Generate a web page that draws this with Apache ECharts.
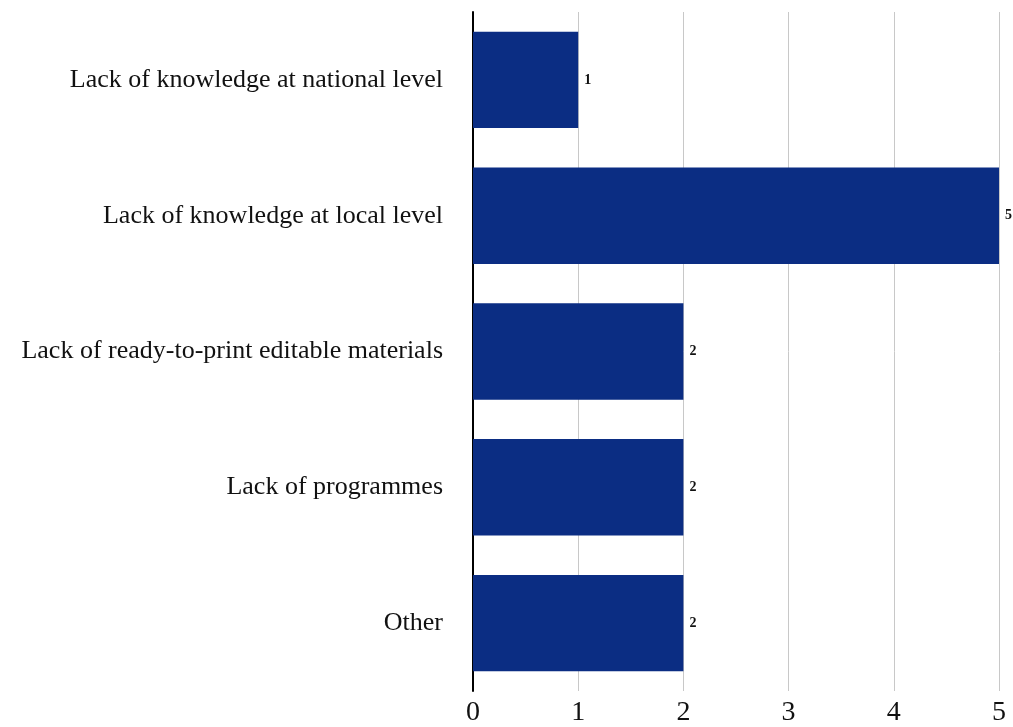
<!DOCTYPE html>
<html>
<head>
<meta charset="utf-8">
<script src="https://cdn.jsdelivr.net/npm/echarts@6/dist/echarts.min.js"></script>
<style>
  html, body { margin: 0; padding: 0; background: #fff; }
  #chart { width: 1013px; height: 727px; }
</style>
</head>
<body>
<div id="chart"></div>
<script>
// Reasons reported, top to bottom
const categories = [
  'Lack of knowledge at national level',
  'Lack of knowledge at local level',
  'Lack of ready-to-print editable materials',
  'Lack of programmes',
  'Other'
];
const counts = [1, 5, 2, 2, 2];
const xTicks = [0, 1, 2, 3, 4, 5];

const serif = '"Liberation Serif", "DejaVu Serif", serif';
const chart = echarts.init(document.getElementById('chart'));

chart.setOption({
  animation: false,
  grid: { left: 473, right: 14, top: 12, bottom: 31, containLabel: false },
  xAxis: {
    type: 'value',
    min: xTicks[0],
    max: xTicks[xTicks.length - 1],
    interval: 1,
    axisLine: { show: false },
    axisTick: { show: false },
    axisLabel: { fontFamily: serif, fontSize: 28, color: '#111', margin: 8 },
    splitLine: { show: true, lineStyle: { color: '#c8c8c8', width: 1 } }
  },
  yAxis: {
    type: 'category',
    data: categories,
    inverse: true,
    axisLine: { show: true, lineStyle: { color: '#000', width: 2 } },
    axisTick: { show: false },
    axisLabel: { fontFamily: serif, fontSize: 26, color: '#111', margin: 30 }
  },
  series: [{
    type: 'bar',
    data: counts,
    barWidth: '71%',
    itemStyle: { color: '#0b2d83' },
    label: {
      show: true,
      position: 'right',
      distance: 6,
      fontFamily: serif,
      fontWeight: 'bold',
      fontSize: 14,
      color: '#111'
    }
  }]
});
</script>
</body>
</html>
